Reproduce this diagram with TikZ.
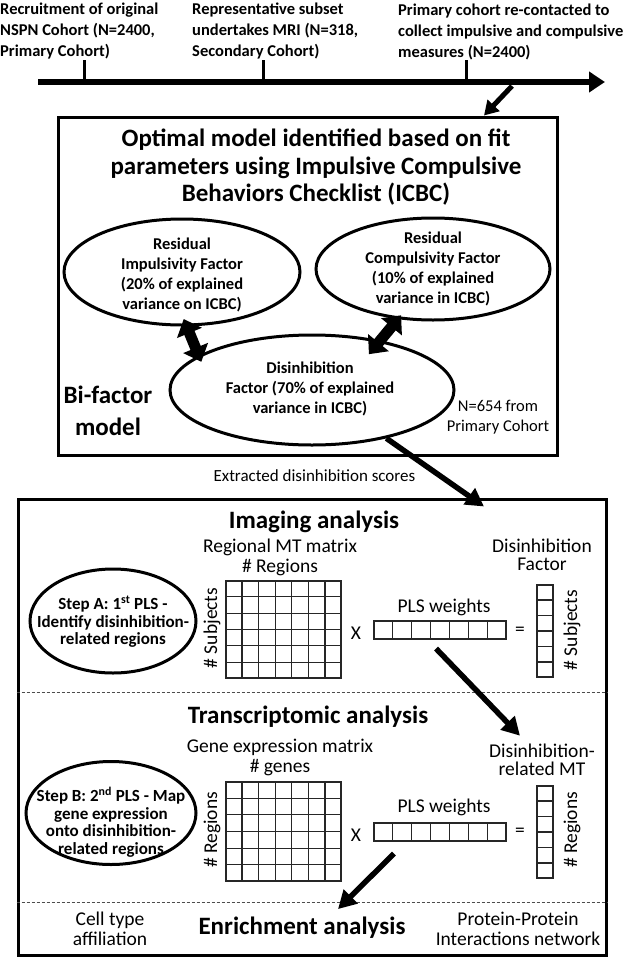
\documentclass[tikz,border=0pt]{standalone}
\usepackage{fontspec}
\setmainfont{Carlito}
\usepackage{tikz}
\usetikzlibrary{shapes.geometric,arrows.meta,positioning,calc}
\tikzset{%
  frameBox/.style={%
    rectangle,
    draw=black,
    line width=3pt,
    inner sep=0pt
  },
  cellBox/.style={%
    rectangle,
    draw=black!85,
    line width=1.1pt,
    inner sep=0pt
  },
  factorOval/.style={%
    ellipse,
    draw=black,
    line width=3pt,
    inner sep=0pt
  },
  factorText/.style={%
    align=center,
    inner sep=0pt,
    font=\bfseries\fontsize{16.5}{20}\selectfont
  },
  stepText/.style={%
    align=center,
    inner sep=0pt,
    font=\bfseries\fontsize{17}{17.5}\selectfont
  },
  headText/.style={%
    align=center,
    inner sep=0pt,
    font=\bfseries\fontsize{25}{27.5}\selectfont
  },
  bodyText/.style={%
    align=center,
    inner sep=0pt,
    font=\fontsize{19.5}{20}\selectfont
  },
  noteText/.style={%
    align=center,
    inner sep=0pt,
    font=\fontsize{16.5}{20}\selectfont
  },
  timeText/.style={%
    align=left,
    inner sep=0pt,
    font=\bfseries\fontsize{16.5}{21}\selectfont
  },
  gridLine/.style={draw=black!85, line width=1.1pt},
  dashLine/.style={draw=black!70, line width=0.9pt, dash pattern=on 3pt off 2pt},
  tickLine/.style={line width=3pt},
  timeArrow/.style={%
    -{Triangle[length=16pt,width=20pt]},
    line width=6pt
  },
  dropArrow/.style={%
    -{Triangle[length=14pt,width=16pt]},
    line width=5pt
  },
  flowArrow/.style={%
    -{Triangle[length=18pt,width=19pt]},
    line width=5.5pt
  },
  fatArrow/.style={%
    {Triangle[length=15pt,width=26pt]}-{Triangle[length=15pt,width=26pt]},
    line width=11pt
  }
}

% name, x, y, columns, rows, width, height
\newcommand{\cellgrid}[7]{%
  \node[cellBox, minimum width=#6, minimum height=#7] (#1) at (#2,#3) {};
  \foreach \ci in {1,...,#4}
    \draw[gridLine] ($(#1.north west)!\ci/#4!(#1.north east)$) -- ($(#1.south west)!\ci/#4!(#1.south east)$);
  \foreach \ri in {1,...,#5}
    \draw[gridLine] ($(#1.north west)!\ri/#5!(#1.south west)$) -- ($(#1.north east)!\ri/#5!(#1.south east)$);
}

\begin{document}
\begin{tikzpicture}[x=1pt, y=-1pt]
  \useasboundingbox (0,0) rectangle (626,958);

  % timeline
  \coordinate (tlStart) at (38,82);
  \coordinate (tlEnd) at (605,82);
  \draw[timeArrow] (tlStart) -- (tlEnd);
  \coordinate (recruitTick) at (84,82);
  \coordinate (mriTick) at (263,82);
  \coordinate (recontactTick) at (466,82);
  \foreach \t in {recruitTick,mriTick,recontactTick}
    \draw[tickLine] (\t) -- ++(0,-22);

  \node[timeText, anchor=west] (recruit) at (0,31) {Recruitment of original\\NSPN Cohort (N=2400,\\Primary Cohort)};
  \node[timeText, anchor=west] (mri) at (192,31) {Representative subset\\undertakes MRI (N=318,\\Secondary Cohort)};
  \node[timeText, anchor=west] (recontact) at (398,32) {Primary cohort re-contacted to\\collect impulsive and compulsive\\measures (N=2400)};

  % bi-factor model
  \node[frameBox, minimum width=499pt, minimum height=338pt] (modelBox) at (307.5,286) {};
  \draw[dropArrow] ($(recontactTick)+(46,4)$) -- ($(modelBox.north)+(176.5,0)$);

  \node[headText] (modelTitle) at (316,167.5) {Optimal model identified based on fit\\parameters using Impulsive Compulsive\\Behaviors Checklist (ICBC)};

  \node[factorOval, minimum width=236pt, minimum height=106pt] (impF) at (182,272) {};
  \node[factorText] (impTxt) at ($(impF)+(0,3)$) {Residual\\Impulsivity Factor\\(20\% of explained\\variance on ICBC)};
  \node[factorOval, minimum width=234pt, minimum height=102pt] (compF) at (433,269) {};
  \node[factorText] (compTxt) at (compF) {Residual\\Compulsivity Factor\\(10\% of explained\\variance in ICBC)};
  \node[factorOval, minimum width=284pt, minimum height=110pt] (disF) at (312,390) {};
  \node[factorText] (disTxt) at ($(disF)+(-2,-1)$) {Disinhibition\\Factor (70\% of explained\\variance in ICBC)};

  \draw[fatArrow, shorten <=-8pt, shorten >=-7pt] (impF.-85) -- (disF.163);
  \draw[fatArrow, shorten <=-5pt, shorten >=-18pt] (compF.-125) -- (disF.36);

  \node[headText, font=\bfseries\fontsize{25}{32}\selectfont] (biLabel) at (108,411) {Bi-factor\\model};
  \node[noteText] (nLabel) at (498,417) {N=654 from\\Primary Cohort};

  % imaging analysis
  \node[frameBox, minimum width=588pt, minimum height=456pt] (pipeBox) at (312,727) {};
  \draw[flowArrow] (disF.-33) -- node[noteText, pos=0.55, left=22pt, font=\fontsize{17}{20}\selectfont] (scoresLabel) {Extracted disinhibition scores} ($(pipeBox.north)+(172,9)$);

  \node[headText] (imgTitle) at (314,522) {Imaging analysis};
  \node[bodyText] (mtLabel) at (280,557) {Regional MT matrix\\\# Regions};
  \cellgrid{mtMat}{283.5}{629.5}{7}{6}{115pt}{97pt}
  \node[bodyText, rotate=90] (subjA) at (212,628) {\# Subjects};
  \node[bodyText] (timesA) at (356,633) {X};
  \node[bodyText] (plsLabelA) at (444,607) {PLS weights};
  \cellgrid{plsVecA}{440}{630}{7}{1}{132pt}{18pt}
  \node[bodyText] (eqA) at (520,631) {=};
  \node[bodyText, font=\fontsize{19.5}{18.5}\selectfont] (disLabel) at (542,555) {Disinhibition\\Factor};
  \cellgrid{disVecA}{545}{631}{1}{6}{16pt}{92pt}
  \node[bodyText, rotate=90] (subjB) at (572,630) {\# Subjects};
  \node[factorOval, minimum width=166pt, minimum height=104pt] (stepA) at (113,621) {};
  \node[stepText] (stepATxt) at ($(stepA)+(0,1)$) {Step A: 1\textsuperscript{st} PLS -\\Identify disinhibition-\\related regions};

  \draw[dashLine] ($(pipeBox.north west)+(0,195)$) -- ($(pipeBox.north east)+(0,195)$);

  % transcriptomic analysis
  \node[headText] (trTitle) at (308,717) {Transcriptomic analysis};
  \node[bodyText] (geneLabel) at (280,757.5) {Gene expression matrix\\\# genes};
  \node[bodyText, font=\fontsize{19.5}{18.5}\selectfont] (relMT) at (542,760) {Disinhibition-\\related MT};
  \cellgrid{geneMat}{283.5}{831.5}{7}{6}{115pt}{99pt}
  \node[bodyText, rotate=90] (regA) at (212,830) {\# Regions};
  \node[bodyText] (timesB) at (356,835) {X};
  \node[bodyText] (plsLabelB) at (444,807) {PLS weights};
  \cellgrid{plsVecB}{440}{832}{7}{1}{132pt}{18pt}
  \node[bodyText] (eqB) at (520,832) {=};
  \cellgrid{disVecB}{545}{832}{1}{6}{16pt}{92pt}
  \node[bodyText, rotate=90] (regB) at (572,830) {\# Regions};
  \node[factorOval, minimum width=170pt, minimum height=103pt] (stepB) at (111,813) {};
  \node[stepText] (stepBTxt) at ($(stepB)+(0,9)$) {Step B: 2\textsuperscript{nd} PLS - Map\\gene expression\\onto disinhibition-\\related regions};

  \draw[dashLine] ($(pipeBox.north west)+(0,405)$) -- ($(pipeBox.north east)+(0,405)$);

  % enrichment analysis
  \node[bodyText] (cellType) at (110,929) {Cell type\\affiliation};
  \node[headText] (enrich) at (302,928) {Enrichment analysis};
  \node[bodyText] (ppi) at (518,929) {Protein-Protein\\Interactions network};

  \draw[flowArrow] ($(plsVecA.south)+(-4,9)$) -- ($(relMT.north)+(-22,-8)$);
  \draw[flowArrow] ($(plsVecB.south)+(-46,12)$) -- ($(enrich.north)+(36,-8)$);

\end{tikzpicture}
\end{document}
